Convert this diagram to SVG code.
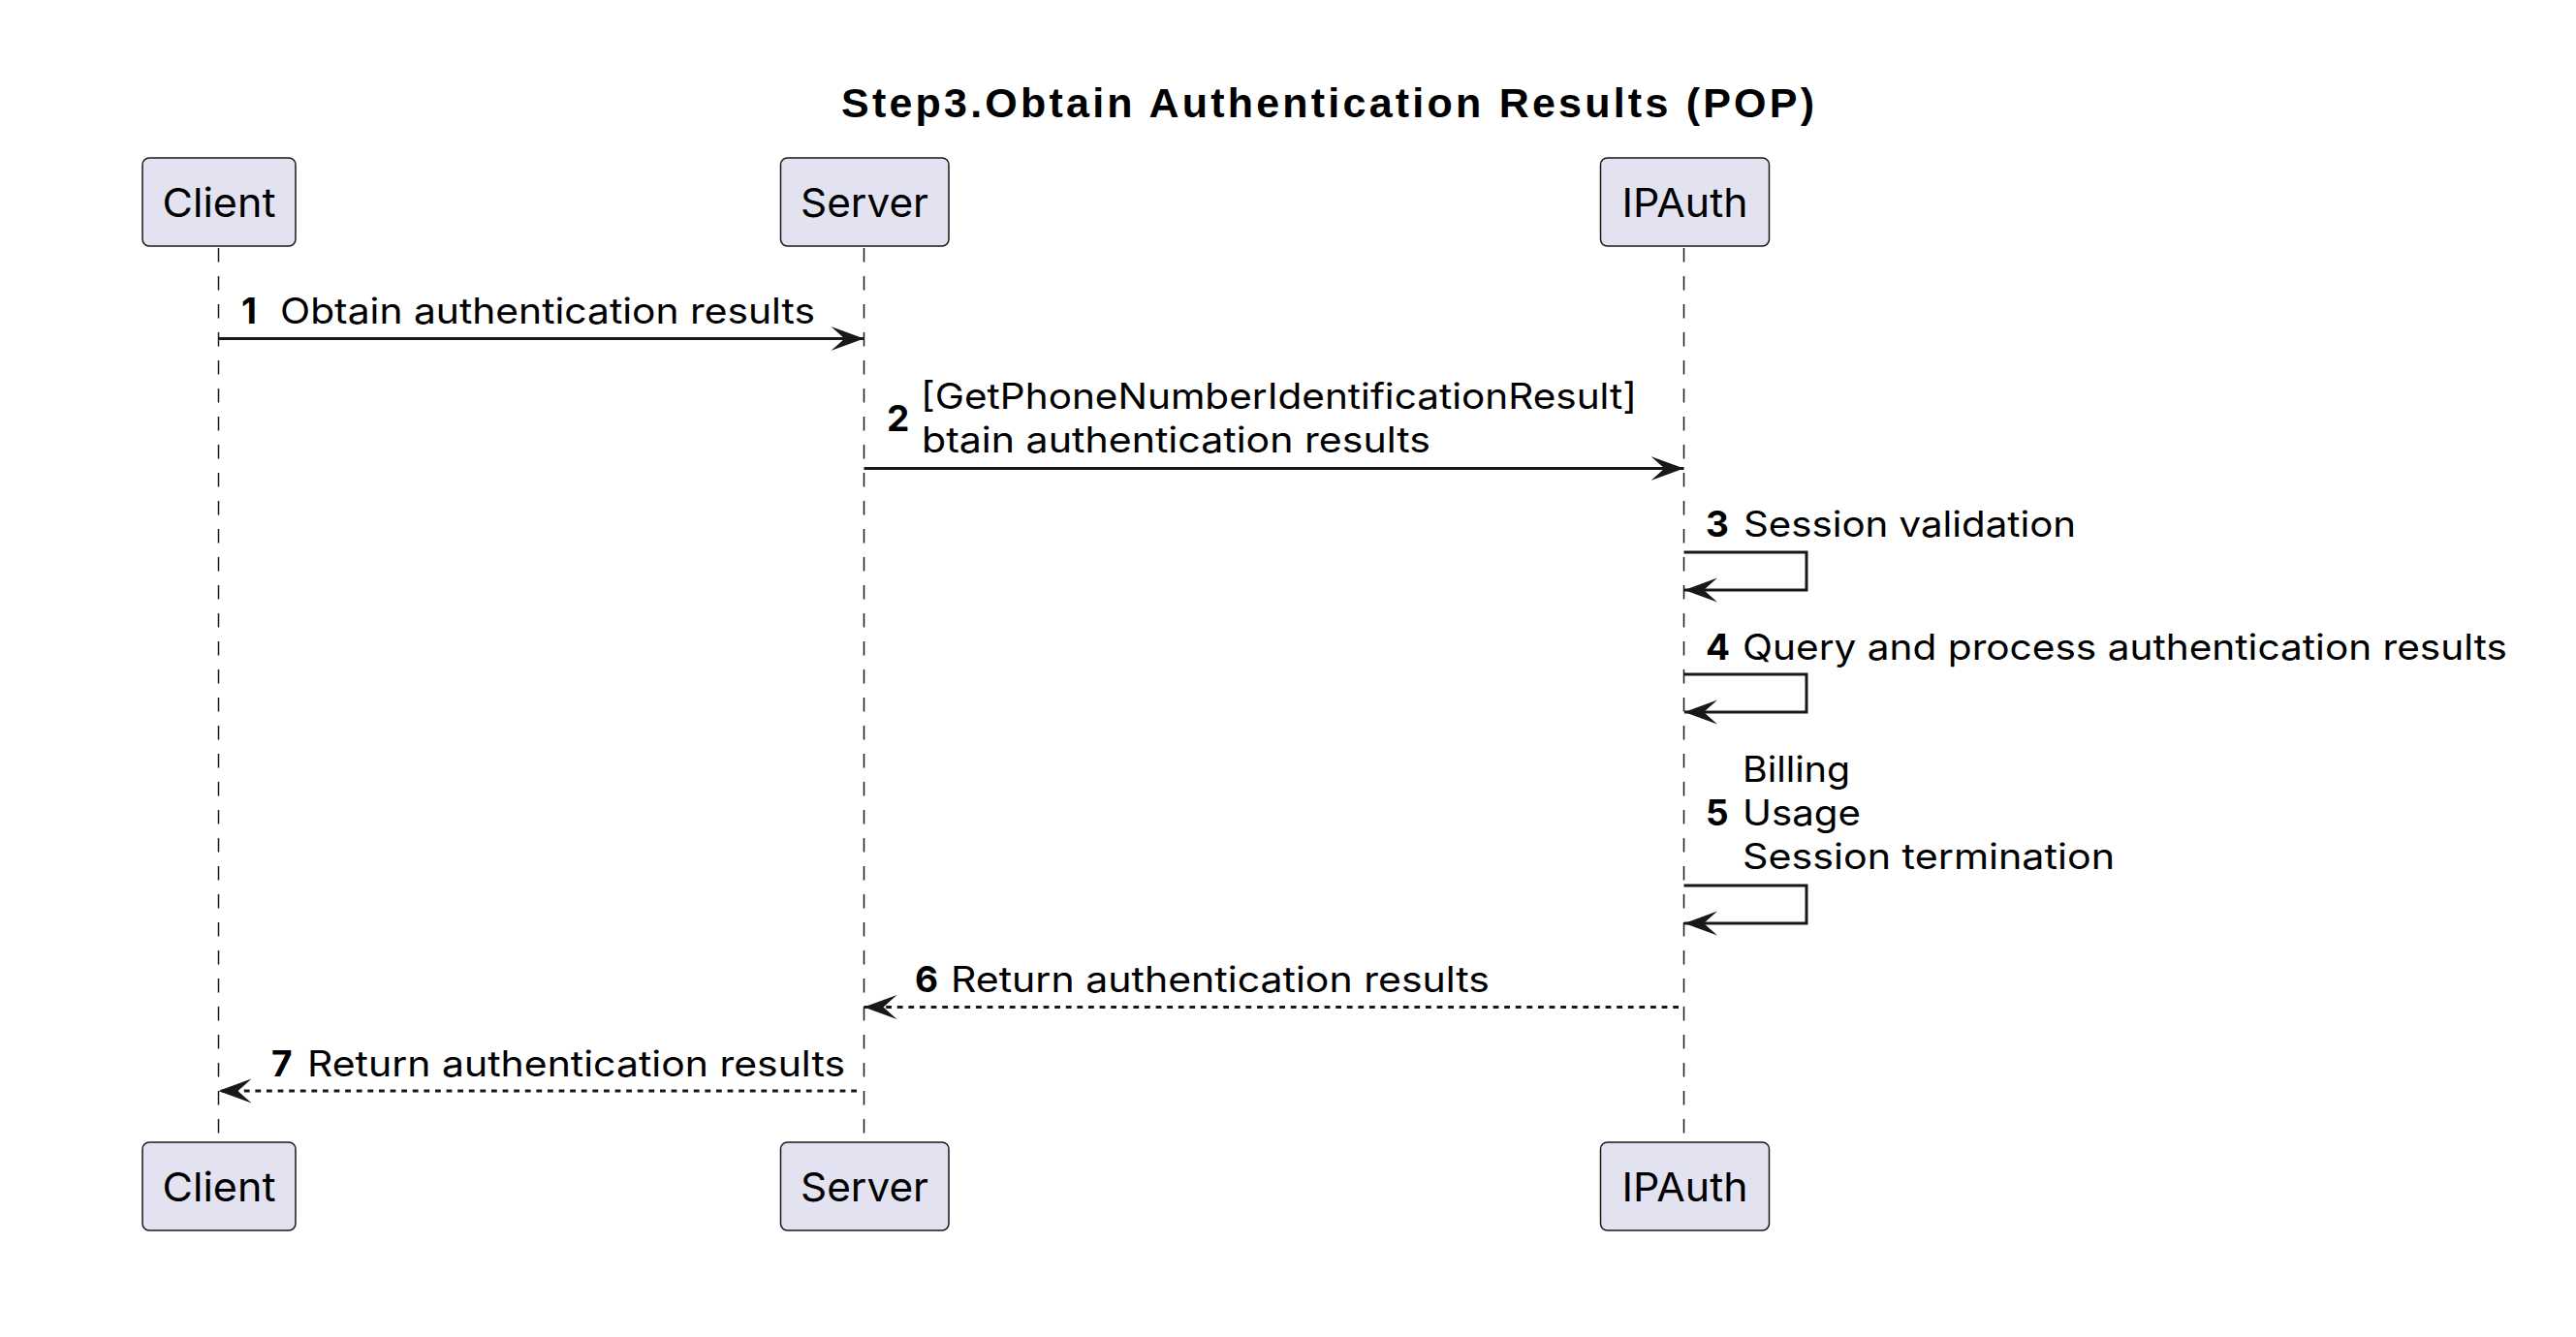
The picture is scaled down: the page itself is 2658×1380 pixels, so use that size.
<svg xmlns="http://www.w3.org/2000/svg" width="2658" height="1380" viewBox="0 0 2658 1380">
<defs>
<style>
.bg{fill:#FFFFFF}
.box{fill:#E2E2F0;stroke:#181818;stroke-width:1.5}
.life{stroke:#181818;stroke-width:1.5;stroke-dasharray:14.5,14.5;fill:none}
.msg{stroke:#181818;stroke-width:3;fill:none}
.dot{stroke:#181818;stroke-width:3;fill:none;stroke-dasharray:5.8,5.8}
.ptxt{font-family:Inter,"Liberation Sans",sans-serif;font-size:41px;fill:#000;text-anchor:middle}
.title{font-family:"Liberation Sans",Arial,sans-serif;font-size:43px;font-weight:bold;fill:#000}
.t{font-family:Inter,"Liberation Sans",sans-serif;font-size:37px;fill:#000}
.n{font-family:Inter,"Liberation Sans",sans-serif;font-size:37px;font-weight:bold;fill:#000}
</style>
<marker id="ah" viewBox="0 0 34 26" refX="34" refY="13" markerWidth="34" markerHeight="26" markerUnits="userSpaceOnUse" orient="auto">
<polygon points="34,13 0,0.5 14,13 0,25.5" fill="#181818"/>
</marker>
</defs>
<rect class="bg" x="0" y="0" width="2658" height="1380"/>
<text class="title" x="868" y="121" textLength="1004" lengthAdjust="spacing">Step3.Obtain Authentication Results (POP)</text>
<g id="lifelines">
<line class="life" x1="225.5" y1="256" x2="225.5" y2="1179"/>
<line class="life" x1="891.5" y1="256" x2="891.5" y2="1179"/>
<line class="life" x1="1737.5" y1="256" x2="1737.5" y2="1179"/>
</g>
<g id="Client">
<rect class="box" x="147" y="163" width="158" height="91" rx="7"/>
<text class="ptxt" x="226" y="223.5" textLength="117" lengthAdjust="spacingAndGlyphs">Client</text>
<rect class="box" x="147" y="1179" width="158" height="91" rx="7"/>
<text class="ptxt" x="226" y="1239.5" textLength="117" lengthAdjust="spacingAndGlyphs">Client</text>
</g>
<g id="Server">
<rect class="box" x="805.5" y="163" width="173.5" height="91" rx="7"/>
<text class="ptxt" x="892" y="223.5" textLength="132" lengthAdjust="spacingAndGlyphs">Server</text>
<rect class="box" x="805.5" y="1179" width="173.5" height="91" rx="7"/>
<text class="ptxt" x="892" y="1239.5" textLength="132" lengthAdjust="spacingAndGlyphs">Server</text>
</g>
<g id="IPAuth">
<rect class="box" x="1651.5" y="163" width="174" height="91" rx="7"/>
<text class="ptxt" x="1738.5" y="223.5" textLength="130" lengthAdjust="spacingAndGlyphs">IPAuth</text>
<rect class="box" x="1651.5" y="1179" width="174" height="91" rx="7"/>
<text class="ptxt" x="1738.5" y="1239.5" textLength="130" lengthAdjust="spacingAndGlyphs">IPAuth</text>
</g>
<g id="connectors">
<line class="msg" x1="225.5" y1="349.5" x2="891.5" y2="349.5" marker-end="url(#ah)"/>
<line class="msg" x1="891.5" y1="483.5" x2="1737.5" y2="483.5" marker-end="url(#ah)"/>
<polyline class="msg" points="1737.5,570 1864,570 1864,609 1738,609" marker-end="url(#ah)"/>
<polyline class="msg" points="1737.5,696 1864,696 1864,735 1738,735" marker-end="url(#ah)"/>
<polyline class="msg" points="1737.5,914 1864,914 1864,953 1738,953" marker-end="url(#ah)"/>
<line class="dot" x1="1732" y1="1039.5" x2="891.5" y2="1039.5" marker-end="url(#ah)"/>
<line class="dot" x1="884" y1="1126" x2="225.5" y2="1126" marker-end="url(#ah)"/>
</g>
<g id="labels">
<text class="n" x="249" y="334">1</text>
<text class="t" x="289" y="334" textLength="552" lengthAdjust="spacingAndGlyphs">Obtain authentication results</text>
<text class="n" x="915" y="444.5">2</text>
<text class="t" x="950" y="422" textLength="739" lengthAdjust="spacingAndGlyphs">[GetPhoneNumberIdentificationResult]</text>
<text class="t" x="951" y="467" textLength="525" lengthAdjust="spacingAndGlyphs">btain authentication results</text>
<text class="n" x="1760" y="554">3</text>
<text class="t" x="1799" y="554" textLength="343" lengthAdjust="spacingAndGlyphs">Session validation</text>
<text class="n" x="1760" y="681">4</text>
<text class="t" x="1798" y="681" textLength="789" lengthAdjust="spacingAndGlyphs">Query and process authentication results</text>
<text class="n" x="1760" y="852">5</text>
<text class="t" x="1798" y="807" textLength="111" lengthAdjust="spacingAndGlyphs">Billing</text>
<text class="t" x="1798" y="852" textLength="122" lengthAdjust="spacingAndGlyphs">Usage</text>
<text class="t" x="1798" y="897" textLength="384" lengthAdjust="spacingAndGlyphs">Session termination</text>
<text class="n" x="944" y="1024">6</text>
<text class="t" x="981" y="1024" textLength="556" lengthAdjust="spacingAndGlyphs">Return authentication results</text>
<text class="n" x="280" y="1111">7</text>
<text class="t" x="317" y="1111" textLength="555" lengthAdjust="spacingAndGlyphs">Return authentication results</text>
</g>
</svg>
